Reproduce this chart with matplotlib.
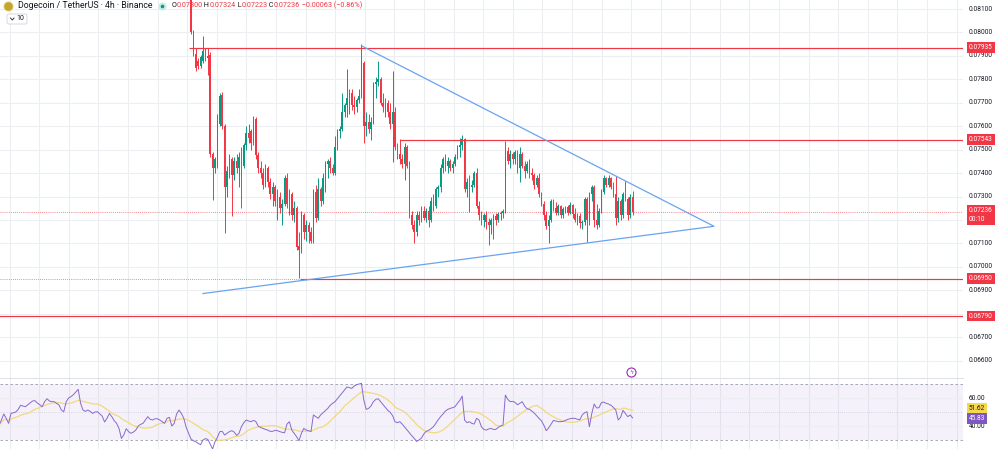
#!/usr/bin/env python3
"""
plot.py
DOGE/USDT 4h candles with a symmetric triangle, horizontal levels and an RSI pane.
"""
import matplotlib
matplotlib.use("Agg")
import matplotlib.pyplot as plt
import matplotlib.transforms as mtransforms
from matplotlib.lines import Line2D
from matplotlib.patches import FancyBboxPatch
import numpy as np
import pandas as pd

plt.rcParams["font.family"] = ["Roboto", "DejaVu Sans"]

# prices in units of 0.00001 USDT, one entry per 4h candle
opens = [
    8150, 8000, 7910, 7880, 7855, 7880, 7920, 7900, 7905, 7480,
    7420, 7440, 7610, 7735, 7600, 7340, 7410, 7460, 7390, 7450,
    7420, 7470, 7430, 7520, 7570, 7580, 7530, 7630, 7475, 7420,
    7400, 7350, 7420, 7360, 7310, 7340, 7280, 7300, 7250, 7270,
    7380, 7270, 7310, 7220, 7250, 7090, 7070, 7220, 7150, 7180,
    7150, 7110, 7320, 7210, 7330, 7280, 7380, 7440, 7450, 7420,
    7400, 7510, 7580, 7590, 7660, 7690, 7720, 7740, 7690, 7680,
    7710, 7730, 7870, 7600, 7620, 7590, 7620, 7780, 7790, 7800,
    7700, 7680, 7700, 7660, 7610, 7660, 7510, 7480, 7460, 7440,
    7510, 7430, 7220, 7180, 7150, 7220, 7200, 7240, 7210, 7240,
    7200, 7280, 7260, 7330, 7340, 7420, 7460, 7430, 7450, 7420,
    7440, 7470, 7510, 7520, 7545, 7330, 7360, 7340, 7350, 7400,
    7260, 7220, 7200, 7220, 7190, 7180, 7200, 7215, 7200, 7225,
    7230, 7240, 7495, 7450, 7480, 7460, 7490, 7420, 7480, 7430,
    7410, 7440, 7400, 7390, 7350, 7380, 7310, 7270, 7220, 7175,
    7200, 7280, 7250, 7230, 7260, 7220, 7245, 7255, 7230, 7265,
    7225, 7200, 7215, 7185, 7190, 7290, 7200, 7310, 7340, 7200,
    7180, 7240, 7320, 7380, 7350, 7380, 7340, 7310, 7210, 7280,
    7220, 7310, 7290, 7220, 7300,
]
highs = [
    8160, 8010, 7935, 7890, 7905, 7985, 7935, 7935, 7915, 7490,
    7470, 7650, 7740, 7745, 7610, 7430, 7480, 7470, 7470, 7480,
    7490, 7510, 7530, 7600, 7610, 7590, 7645, 7640, 7490, 7450,
    7420, 7440, 7430, 7380, 7360, 7350, 7330, 7320, 7290, 7390,
    7400, 7330, 7320, 7280, 7260, 7150, 7240, 7230, 7200, 7190,
    7170, 7330, 7350, 7380, 7340, 7400, 7450, 7460, 7470, 7440,
    7560, 7590, 7600, 7740, 7700, 7845, 7760, 7760, 7730, 7720,
    7760, 7950, 7880, 7660, 7650, 7640, 7790, 7810, 7880, 7810,
    7740, 7720, 7710, 7700, 7836, 7680, 7530, 7545, 7480, 7530,
    7520, 7450, 7240, 7200, 7240, 7240, 7260, 7260, 7250, 7260,
    7300, 7310, 7340, 7350, 7440, 7470, 7480, 7470, 7460, 7450,
    7480, 7520, 7550, 7561, 7550, 7380, 7390, 7370, 7410, 7420,
    7280, 7240, 7230, 7240, 7210, 7210, 7225, 7230, 7235, 7240,
    7245, 7536, 7510, 7500, 7490, 7500, 7500, 7510, 7490, 7450,
    7450, 7460, 7420, 7400, 7390, 7400, 7320, 7280, 7240, 7220,
    7290, 7290, 7275, 7270, 7265, 7255, 7260, 7265, 7275, 7270,
    7250, 7230, 7230, 7200, 7300, 7300, 7320, 7350, 7350, 7270,
    7250, 7330, 7390, 7385, 7390, 7385, 7360, 7386, 7300, 7290,
    7320, 7365, 7300, 7310, 7324,
]
lows = [
    7995, 7900, 7836, 7845, 7850, 7870, 7880, 7820, 7470, 7287,
    7400, 7420, 7600, 7590, 7145, 7300, 7380, 7215, 7370, 7400,
    7340, 7250, 7420, 7500, 7530, 7500, 7520, 7460, 7400, 7380,
    7330, 7340, 7340, 7290, 7260, 7260, 7200, 7230, 7180, 7260,
    7250, 7220, 7200, 7190, 7070, 6952, 7060, 7120, 7110, 7100,
    7100, 7100, 7190, 7200, 7260, 7270, 7320, 7380, 7400, 7390,
    7390, 7500, 7550, 7580, 7640, 7640, 7650, 7670, 7650, 7660,
    7700, 7720, 7530, 7560, 7570, 7540, 7610, 7720, 7770, 7690,
    7660, 7640, 7640, 7590, 7446, 7500, 7460, 7440, 7420, 7370,
    7420, 7210, 7160, 7100, 7130, 7180, 7190, 7200, 7190, 7170,
    7190, 7240, 7250, 7300, 7320, 7400, 7410, 7400, 7410, 7400,
    7430, 7460, 7470, 7500, 7320, 7300, 7232, 7320, 7340, 7250,
    7200, 7180, 7170, 7160, 7095, 7140, 7120, 7180, 7190, 7200,
    7210, 7230, 7440, 7420, 7440, 7440, 7400, 7360, 7420, 7380,
    7400, 7380, 7370, 7330, 7340, 7300, 7260, 7200, 7160, 7103,
    7190, 7240, 7220, 7220, 7210, 7210, 7230, 7220, 7225, 7210,
    7190, 7180, 7165, 7160, 7180, 7107, 7180, 7280, 7170, 7160,
    7170, 7230, 7310, 7340, 7340, 7330, 7300, 7180, 7190, 7200,
    7210, 7280, 7200, 7210, 7223,
]
closes = [
    8000, 7910, 7850, 7855, 7895, 7920, 7900, 7890, 7480, 7420,
    7460, 7610, 7730, 7600, 7340, 7410, 7460, 7390, 7450, 7420,
    7470, 7430, 7520, 7570, 7550, 7530, 7630, 7475, 7420, 7400,
    7350, 7420, 7360, 7310, 7340, 7280, 7300, 7250, 7270, 7380,
    7270, 7310, 7220, 7250, 7085, 7070, 7220, 7150, 7180, 7150,
    7110, 7320, 7210, 7330, 7280, 7380, 7440, 7450, 7420, 7400,
    7510, 7580, 7590, 7660, 7690, 7720, 7740, 7690, 7680, 7710,
    7730, 7870, 7600, 7620, 7590, 7620, 7780, 7790, 7800, 7700,
    7680, 7700, 7660, 7610, 7660, 7510, 7480, 7460, 7440, 7510,
    7430, 7220, 7180, 7150, 7220, 7200, 7240, 7210, 7240, 7200,
    7280, 7260, 7330, 7340, 7420, 7460, 7430, 7450, 7420, 7440,
    7470, 7510, 7520, 7545, 7330, 7360, 7340, 7350, 7400, 7260,
    7220, 7200, 7220, 7190, 7180, 7200, 7215, 7200, 7225, 7230,
    7240, 7495, 7450, 7480, 7460, 7490, 7420, 7480, 7430, 7410,
    7440, 7400, 7390, 7350, 7380, 7310, 7270, 7220, 7175, 7200,
    7280, 7250, 7230, 7260, 7220, 7245, 7255, 7230, 7265, 7225,
    7200, 7215, 7185, 7190, 7290, 7200, 7310, 7340, 7200, 7180,
    7240, 7320, 7380, 7350, 7380, 7340, 7310, 7210, 7280, 7220,
    7310, 7290, 7220, 7299, 7236,
]

# RSI(14), one value per bar; the first 80 bars traded above the visible price range
rsi_values = [
    40.7, 44.3, 48.6, 45.5, 41.9, 49.0, 49.5, 50.0, 51.9, 54.8,
    54.3, 53.8, 55.2, 56.7, 57.9, 58.1, 56.4, 55.2, 53.8, 57.4,
    59.5, 57.9, 57.4, 57.4, 56.2, 55.0, 51.4, 50.2, 57.4, 60.0,
    61.0, 62.4, 64.3, 66.2, 56.2, 51.4, 50.5, 51.4, 50.5, 49.0,
    50.0, 50.2, 48.6, 47.1, 42.9, 45.5, 49.0, 46.7, 43.8, 41.9,
    38.3, 31.2, 33.6, 38.1, 36.0, 34.8, 35.7, 37.1, 40.0, 41.2,
    41.9, 44.3, 46.7, 44.8, 44.3, 45.2, 45.2, 44.3, 43.1, 41.9,
    45.5, 46.2, 40.0, 41.9, 48.6, 51.4, 49.0, 45.5, 39.0, 34.8,
    30.7, 29.5, 28.8, 27.6, 26.7, 30.0, 31.0, 30.5, 27.1, 23.6,
    28.8, 31.9, 36.0, 36.2, 33.6, 34.8, 36.0, 36.7, 35.7, 33.3,
    34.8, 39.5, 42.4, 44.3, 43.6, 43.1, 44.0, 43.3, 40.0, 39.0,
    38.3, 37.6, 37.1, 36.2, 36.2, 36.9, 36.7, 36.0, 35.5, 35.2,
    41.4, 43.1, 37.1, 34.8, 32.4, 29.5, 34.8, 38.3, 37.1, 36.7,
    36.0, 47.9, 46.7, 45.5, 47.9, 49.5, 51.0, 52.6, 54.8, 56.2,
    57.4, 59.5, 61.7, 63.8, 65.7, 67.9, 67.4, 66.9, 68.6, 69.5,
    70.0, 70.5, 58.6, 51.9, 52.6, 54.3, 57.4, 59.0, 59.5, 57.4,
    55.2, 53.3, 51.2, 49.8, 47.4, 43.1, 42.4, 43.1, 41.4, 39.3,
    37.1, 35.2, 33.1, 31.2, 29.0, 30.0, 31.4, 34.3, 36.2, 36.9,
    38.1, 39.5, 41.9, 44.5, 46.7, 48.6, 50.7, 51.9, 52.6, 53.1,
    53.8, 56.2, 58.3, 61.4, 44.3, 42.4, 43.1, 41.9, 41.4, 45.5,
    44.3, 39.5, 37.6, 37.1, 37.9, 38.3, 37.6, 37.6, 39.0, 40.0,
    40.7, 62.1, 59.0, 57.4, 57.6, 56.9, 55.2, 56.2, 57.4, 54.3,
    52.4, 51.9, 50.7, 49.3, 47.4, 45.5, 43.8, 40.7, 36.7, 38.6,
    41.2, 44.0, 43.6, 43.1, 43.1, 43.3, 44.0, 44.8, 45.2, 45.5,
    45.5, 44.8, 44.5, 47.9, 49.5, 50.2, 39.5, 49.0, 55.7, 52.9,
    53.1, 56.7, 57.1, 56.2, 55.7, 54.8, 53.3, 51.4, 44.3, 46.2,
    51.2, 49.0, 46.7, 47.9, 45.8,
]
rsi_ma_label = 51.62
rsi_label = 45.83
countdown = "00:10"

first_candle_bar = 80
title = "Dogecoin / TetherUS \u00b7 4h \u00b7 Binance"

# drawn objects (price units 0.00001 USDT)
level_prices = [7935, 7543, 6950, 6790]
level_start_bars = [79, 167, 125.4, 0]
triangle_bars = [85.0, 297.9, 151.25]      # lower start -> apex -> upper start
triangle_prices = [6886, 7173, 7942]

price_ticks = [8100, 8000, 7900, 7800, 7700, 7600, 7500, 7400, 7300,
               7100, 7000, 6900, 6700, 6600]
rsi_ticks = [60, 40]

W, H = 1000, 449
RED = "#f23645"
GREEN = "#089981"
BLUE = "#6aa3f0"
GRID = "#eceef2"
TXT = "#131722"
PURPLE = "#7e57c2"

fig = plt.figure(figsize=(W / 100, H / 100), dpi=100)
split = 378          # pixel row where the RSI pane starts
plot_w = 963         # pixel width of the plotting area
ax = fig.add_axes([0, 1 - split / H, plot_w / W, split / H])
ax2 = fig.add_axes([0, 0, plot_w / W, 1 - split / H])

xlim = (0.42, 0.42 + plot_w / 2.4)
for a in (ax, ax2):
    a.set_xlim(*xlim)
    a.set_xticks([])
    a.set_yticks([])
    for s in a.spines.values():
        s.set_visible(False)
    for g in np.arange(4.46, xlim[1], 12.33):
        a.axvline(g, color=GRID, lw=0.8, zorder=0)

# ---- price pane ----
ax.set_ylim(0.065256, 0.081385)
for p in np.arange(6500, 8200, 100) / 1e5:
    ax.axhline(p, color=GRID, lw=0.8, zorder=0)

o = np.array(opens) / 1e5
h = np.array(highs) / 1e5
l = np.array(lows) / 1e5
c = np.array(closes) / 1e5
assert len(o) == len(h) == len(l) == len(c)
xb = first_candle_bar + np.arange(len(c))
col = np.where(c >= o, GREEN, RED)
ax.vlines(xb, l, h, colors=col, lw=0.7, zorder=3)
ax.bar(xb, np.maximum(np.abs(c - o), 0.00002), bottom=np.minimum(o, c),
       width=0.62, color=col, lw=0, zorder=4)

lv = np.array(level_prices) / 1e5
for p, b in zip(lv, level_start_bars):
    ax.hlines(p, b, xlim[1], color=RED, lw=0.85, zorder=5)
# the 0.06950 level also shows as a dotted line across the pane
ax.hlines(lv[2], xlim[0], level_start_bars[2], color=RED, lw=0.6,
          ls=(0, (1, 1.5)), alpha=0.8, zorder=5)
ax.axhline(c[-1], color=RED, lw=0.6, ls=(0, (1, 1.5)), alpha=0.8, zorder=2)

ax.plot(triangle_bars, np.array(triangle_prices) / 1e5, color=BLUE, lw=0.9, zorder=6)

trans = mtransforms.blended_transform_factory(ax.transAxes, ax.transData)
lbl_x = 969 / plot_w
for t in price_ticks:
    ax.text(lbl_x, t / 1e5, f"{t / 1e5:.5f}", transform=trans, fontsize=4.7,
            color=TXT, va="center", ha="left", clip_on=False)

box = dict(boxstyle="square,pad=0.3", fc=RED, ec="none")
for p in lv:
    ax.text(lbl_x, p, f"{p:.5f}", transform=trans, fontsize=4.7, color="white",
            va="center", ha="left", bbox=box, zorder=10, clip_on=False)
ax.annotate(f"{c[-1]:.5f}\n{countdown}", xy=(lbl_x, c[-1]), xycoords=trans,
            xytext=(0, 3.2), textcoords="offset points", fontsize=4.7,
            color="white", va="top", ha="left", linespacing=1.3,
            bbox=box, zorder=10, annotation_clip=False)

# ---- RSI pane ----
ax2.set_ylim(23.6, 74.3)
ax2.axhspan(30, 70, color=PURPLE, alpha=0.08, lw=0, zorder=0)
for v in rsi_ticks:
    ax2.axhline(v, color=GRID, lw=0.8, zorder=0)
for v in (70, 30):
    ax2.axhline(v, color="#9a9da6", lw=0.6, ls=(0, (3, 3)), zorder=1)
ax2.axhline(50, color="#9a9da6", lw=0.5, ls=(0, (1, 2)), alpha=0.6, zorder=1)
ax2.spines["top"].set_visible(True)
ax2.spines["top"].set_color("#e0e3eb")
ax2.spines["top"].set_linewidth(0.8)

r = np.array(rsi_values)
xr = np.arange(len(r))
rsi_ma = pd.Series(r).rolling(14, min_periods=1).mean()
ax2.plot(xr, rsi_ma, color="#f3d66f", lw=0.9, alpha=0.9, zorder=2)
ax2.plot(xr, r, color="#8a68cc", lw=0.7, zorder=3)

trans2 = mtransforms.blended_transform_factory(ax2.transAxes, ax2.transData)
for v in rsi_ticks:
    ax2.text(lbl_x, v, f"{v:.2f}", transform=trans2, fontsize=4.7, color=TXT,
             va="center", ha="left", clip_on=False)
gap = 7.0
mid = (rsi_ma_label + rsi_label) / 2
ax2.text(lbl_x, max(rsi_ma_label, mid + gap / 2), f"{rsi_ma_label:.2f}",
         transform=trans2, fontsize=4.7, color=TXT, va="center", ha="left",
         bbox=dict(boxstyle="square,pad=0.3", fc="#f5d94a", ec="none"),
         zorder=10, clip_on=False)
ax2.text(lbl_x, min(rsi_label, mid - gap / 2), f"{rsi_label:.2f}",
         transform=trans2, fontsize=4.7, color="white", va="center", ha="left",
         bbox=dict(boxstyle="square,pad=0.3", fc=PURPLE, ec="none"),
         zorder=10, clip_on=False)

# ---- header ----
px = mtransforms.IdentityTransform()
ren = fig.canvas.get_renderer()


def put(x, s, color, size, y=5.5):
    t = fig.text(x / W, 1 - y / H, s, color=color, fontsize=size, va="center", ha="left")
    return t.get_window_extent(ren).x1


fig.add_artist(Line2D([8], [H - 5.5], marker="o", ms=6.5, mfc="#c2a633",
                      mec="#e3c56a", mew=0.6, transform=px))
put(18, title, TXT, 6.3)
fig.add_artist(Line2D([162], [H - 5.5], marker="o", ms=4.2, mfc=GREEN,
                      mec="#c8ece5", mew=1.6, transform=px))

chg = (closes[-1] - closes[-2]) / 1e5
pct = (closes[-1] - closes[-2]) / closes[-2] * 100
segs = [("O", TXT), (f"{o[-1]:.5f}", RED), (" H", TXT), (f"{h[-1]:.5f}", RED),
        (" L", TXT), (f"{l[-1]:.5f}", RED), (" C", TXT), (f"{c[-1]:.5f}", RED),
        (f" {chg:+.5f} ({pct:+.2f}%)".replace("-", "\u2212"), RED)]
x = 171.5
for s, colr in segs:
    x = put(x, s, colr, 5.2)

# collapsed indicator counter
fig.add_artist(FancyBboxPatch((7, H - 24), 20, 10, boxstyle="round,pad=0,rounding_size=2",
                              transform=px, fc="white", ec="#d1d4dc", lw=0.6))
fig.add_artist(Line2D([10.5, 12.3, 14.1], [H - 18, H - 20, H - 18], color=TXT,
                      lw=0.6, transform=px))
put(16.5, "10", TXT, 5.0, y=19)

# alert icon
fig.add_artist(Line2D([631], [H - 372], marker="o", ms=6.5, mfc="white",
                      mec="#9c27b0", mew=0.8, transform=px))
fig.text(631 / W, 1 - 372 / H, "\u03df", color="#9c27b0", fontsize=4.5,
         ha="center", va="center")

fig.savefig("out.png", dpi=100)
